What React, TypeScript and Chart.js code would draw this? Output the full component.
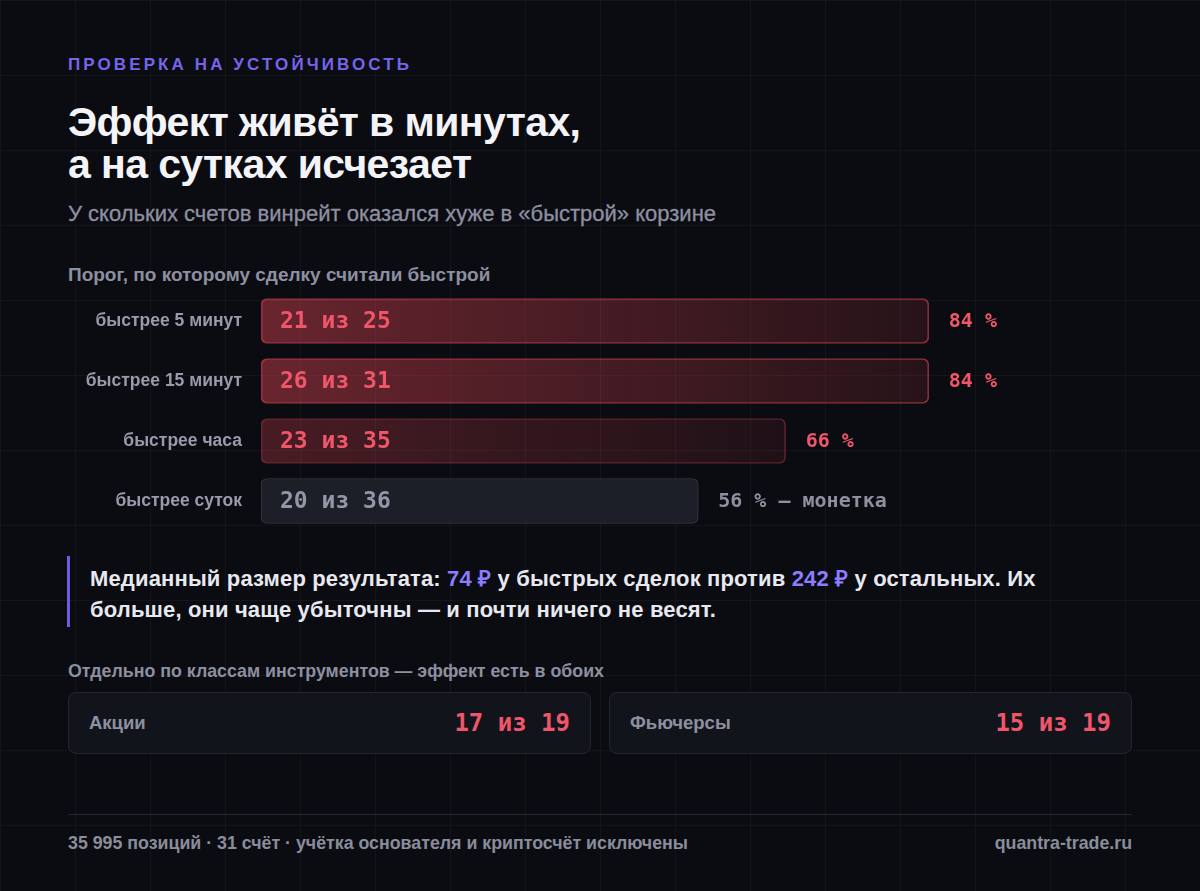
import React, { useEffect, useRef } from "react";
import { Chart, registerables } from "chart.js";

Chart.register(...registerables);

// ---- data ----
const thresholds = ["быстрее 5 минут", "быстрее 15 минут", "быстрее часа", "быстрее суток"];
const worseCounts = [21, 26, 23, 20];
const accountTotals = [25, 31, 35, 36];
const barShare = [84, 84, 66, 55];
const shareLabels = ["84 %", "84 %", "66 %", "56 % — монетка"];
const barTone = ["strong", "strong", "weak", "neutral"];
const classNames = ["Акции", "Фьючерсы"];
const classWorse = [17, 15];
const classTotals = [19, 19];

const BG = "#0b0c11";
const RED = "#f0566a";
const GRAY_TXT = "#8d90a0";
const MONO = "'DejaVu Sans Mono', monospace";
const SANS = "'Liberation Sans', Arial, sans-serif";

function BarChart() {
  const ref = useRef<HTMLCanvasElement | null>(null);
  useEffect(() => {
    if (!ref.current) return;
    const labelPlugin = {
      id: "barLabels",
      afterDatasetsDraw(chart: any) {
        const ctx = chart.ctx;
        const meta = chart.getDatasetMeta(0);
        meta.data.forEach((bar: any, i: number) => {
          const neutral = barTone[i] === "neutral";
          ctx.save();
          ctx.textBaseline = "middle";
          ctx.textAlign = "left";
          ctx.font = `bold 23px ${MONO}`;
          ctx.fillStyle = neutral ? "#9396a6" : RED;
          ctx.fillText(`${worseCounts[i]} из ${accountTotals[i]}`, bar.base + 19, bar.y + 1);
          ctx.font = `bold 20px ${MONO}`;
          ctx.fillStyle = neutral ? "#8d90a0" : RED;
          ctx.fillText(shareLabels[i], bar.x + 20, bar.y + 1);
          ctx.restore();
        });
      },
    };
    const chart = new Chart(ref.current, {
      type: "bar",
      data: {
        labels: thresholds,
        datasets: [
          {
            data: barShare,
            barThickness: 45,
            borderRadius: 6,
            borderSkipped: false,
            borderWidth: 1,
            borderColor: (c: any) => {
              const t = barTone[c.dataIndex];
              if (t === "strong") return "rgba(235,72,88,0.55)";
              if (t === "weak") return "rgba(235,72,88,0.32)";
              return "#373a45";
            },
            backgroundColor: (c: any) => {
              const chart = c.chart;
              const area = chart.chartArea;
              const t = barTone[c.dataIndex];
              if (t === "neutral") return "#1c1f27";
              if (!area) return "rgba(235,72,88,0.3)";
              const x0 = area.left;
              const x1 = chart.scales.x.getPixelForValue(barShare[c.dataIndex]);
              const g = chart.ctx.createLinearGradient(x0, 0, x1, 0);
              if (t === "strong") {
                g.addColorStop(0, "rgba(235,72,88,0.42)");
                g.addColorStop(1, "rgba(235,72,88,0.12)");
              } else {
                g.addColorStop(0, "rgba(235,72,88,0.28)");
                g.addColorStop(1, "rgba(235,72,88,0.09)");
              }
              return g;
            },
          },
        ],
      },
      options: {
        indexAxis: "y",
        responsive: false,
        animation: false,
        devicePixelRatio: 1,
        layout: { padding: { left: 0, right: 76, top: 0, bottom: 0 }, autoPadding: false },
        plugins: { legend: { display: false }, tooltip: { enabled: false } },
        scales: {
          x: { min: 0, max: 100, display: false },
          y: {
            grid: { display: false, drawTicks: false },
            border: { display: false },
            afterFit: (s: any) => {
              s.width = 193;
              s.paddingTop = 0;
              s.paddingBottom = 0;
            },
            ticks: {
              padding: 19,
              color: "#989bab",
              font: { family: SANS, weight: "bold", size: 17.5 },
            },
          },
        },
      },
      plugins: [labelPlugin],
    } as any);
    return () => chart.destroy();
  }, []);
  return (
    <canvas
      ref={ref}
      width={1064}
      height={240}
      style={{ position: "absolute", left: 68, top: 291, width: 1064, height: 240 }}
    />
  );
}

export default function App() {
  useEffect(() => {
    document.body.style.margin = "0";
    document.body.style.background = BG;
  }, []);
  const abs = (o: any) => ({ position: "absolute" as const, ...o });
  return (
    <div
      style={{
        position: "fixed",
        left: 0,
        top: 0,
        width: 1200,
        height: 891,
        background: BG,
        backgroundImage:
          "linear-gradient(to right, rgba(255,255,255,0.035) 1px, transparent 1px), linear-gradient(to bottom, rgba(255,255,255,0.035) 1px, transparent 1px)",
        backgroundSize: "75px 75px",
        backgroundPosition: "75px 75px",
        fontFamily: SANS,
        overflow: "hidden",
      }}
    >
      <div
        style={abs({
          left: 68,
          top: 55,
          fontSize: 17,
          lineHeight: "20px",
          fontWeight: 700,
          letterSpacing: "3.1px",
          color: "#7466e8",
          whiteSpace: "nowrap",
        })}
      >
        ПРОВЕРКА НА УСТОЙЧИВОСТЬ
      </div>
      <div
        style={abs({
          left: 68,
          top: 101,
          fontSize: 41,
          lineHeight: "42px",
          fontWeight: 700,
          letterSpacing: "-0.6px",
          color: "#f4f4f8",
          whiteSpace: "nowrap",
        })}
      >
        Эффект живёт в минутах,
        <br />а на сутках исчезает
      </div>
      <div
        style={abs({
          left: 68,
          top: 201,
          fontSize: 22,
          lineHeight: "26px",
          color: "#8e90a2",
          WebkitTextStroke: "0.3px #8e90a2",
          whiteSpace: "nowrap",
        })}
      >
        У скольких счетов винрейт оказался хуже в «быстрой» корзине
      </div>
      <div
        style={abs({
          left: 68,
          top: 264,
          fontSize: 19,
          lineHeight: "22px",
          fontWeight: 700,
          color: GRAY_TXT,
          whiteSpace: "nowrap",
        })}
      >
        Порог, по которому сделку считали быстрой
      </div>

      <BarChart />

      <div style={abs({ left: 67, top: 556, width: 3, height: 71, background: "#6b5ce0" })} />
      <div
        style={abs({
          left: 90,
          top: 563,
          fontSize: 22,
          lineHeight: "31px",
          fontWeight: 700,
          letterSpacing: "0.15px",
          color: "#e8e9f0",
          whiteSpace: "nowrap",
        })}
      >
        Медианный размер результата: <span style={{ color: "#8b7dff" }}>74 ₽</span> у быстрых сделок против{" "}
        <span style={{ color: "#8b7dff" }}>242 ₽</span> у остальных. Их
        <br />
        больше, они чаще убыточны — и почти ничего не весят.
      </div>

      <div
        style={abs({
          left: 68,
          top: 660,
          fontSize: 17.8,
          lineHeight: "22px",
          fontWeight: 700,
          color: GRAY_TXT,
          whiteSpace: "nowrap",
        })}
      >
        Отдельно по классам инструментов — эффект есть в обоих
      </div>

      {classNames.map((name, i) => (
        <div
          key={name}
          style={abs({
            left: 68 + i * 541,
            top: 692,
            width: 523,
            height: 62,
            boxSizing: "border-box",
            background: "#12141c",
            border: "1px solid #23262f",
            borderRadius: 8,
            display: "flex",
            alignItems: "center",
            justifyContent: "space-between",
            padding: "0 20px",
          })}
        >
          <span style={{ fontSize: 18.5, fontWeight: 700, color: GRAY_TXT }}>{name}</span>
          <span style={{ fontFamily: MONO, fontSize: 24, fontWeight: 700, color: RED }}>
            {classWorse[i]} из {classTotals[i]}
          </span>
        </div>
      ))}

      <div style={abs({ left: 68, top: 814, width: 1064, height: 1, background: "#252833" })} />
      <div
        style={abs({
          left: 68,
          top: 832,
          fontSize: 17.8,
          lineHeight: "22px",
          fontWeight: 700,
          color: "#8a8d9c",
          whiteSpace: "nowrap",
        })}
      >
        35 995 позиций · 31 счёт · учётка основателя и криптосчёт исключены
      </div>
      <div
        style={abs({
          right: 68,
          top: 832,
          fontSize: 17.8,
          lineHeight: "22px",
          fontWeight: 700,
          color: "#8a8d9c",
          textAlign: "right",
          whiteSpace: "nowrap",
        })}
      >
        quantra-trade.ru
      </div>
    </div>
  );
}
